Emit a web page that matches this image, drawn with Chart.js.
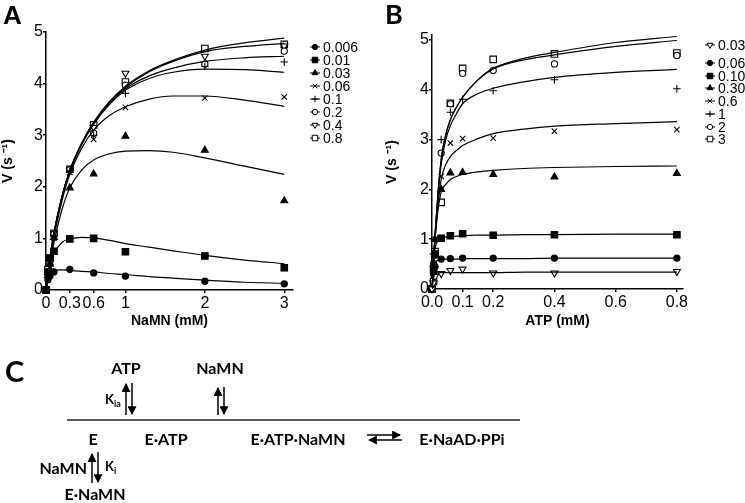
<!DOCTYPE html>
<html>
<head>
<meta charset="utf-8">
<script src="https://cdn.jsdelivr.net/npm/chart.js@4.4.1/dist/chart.umd.min.js"></script>
<style>
  html, body { margin: 0; padding: 0; background: #fff; }
  #wrap { position: relative; width: 745px; height: 503px; overflow: hidden; }
  canvas { position: absolute; top: 0; }
  #chartA { left: 0; }
  #chartB { left: 380px; }
  #scheme { position: absolute; left: 0; top: 0; }
  #scheme text { font-family: Lato, 'Noto Sans', sans-serif; font-weight: bold; fill: #000; }
</style>
</head>
<body>
<div id="wrap">
  <canvas id="chartA" width="380" height="330"></canvas>
  <canvas id="chartB" width="365" height="330"></canvas>
  <svg id="scheme" width="745" height="503">
    <defs>
      <marker id="head" viewBox="0 0 8 8" refX="7" refY="4" markerWidth="6" markerHeight="6" orient="auto">
        <path d="M0,0 L8,4 L0,8 z" fill="#000"/>
      </marker>
    </defs>
    <text x="3" y="24" style="font-family:'Liberation Sans',Arial,sans-serif;font-size:26px">A</text>
    <text x="385" y="24" style="font-size:27px">B</text>
    <text x="5" y="382" style="font-size:29px">C</text>

    <text x="126" y="374" text-anchor="middle" font-size="16">ATP</text>
    <text x="220" y="374" text-anchor="middle" font-size="16">NaMN</text>
    <text x="105" y="404" font-size="13">K<tspan font-size="9" dy="3">ia</tspan></text>
    <line x1="126" y1="415" x2="126" y2="384" stroke="#000" stroke-width="1.5" marker-end="url(#head)"/>
    <line x1="132" y1="383" x2="132" y2="414" stroke="#000" stroke-width="1.5" marker-end="url(#head)"/>
    <line x1="218" y1="415" x2="218" y2="388" stroke="#000" stroke-width="1.5" marker-end="url(#head)"/>
    <line x1="224" y1="387" x2="224" y2="414" stroke="#000" stroke-width="1.5" marker-end="url(#head)"/>

    <line x1="67" y1="420" x2="520" y2="420" stroke="#595959" stroke-width="2"/>

    <text x="93" y="445" text-anchor="middle" font-size="16">E</text>
    <text x="166" y="445" text-anchor="middle" font-size="16">E·ATP</text>
    <text x="298" y="445" text-anchor="middle" font-size="16">E·ATP·NaMN</text>
    <text x="462" y="445" text-anchor="middle" font-size="16">E·NaAD·PPi</text>
    <line x1="367" y1="435" x2="400" y2="435" stroke="#000" stroke-width="1.5" marker-end="url(#head)"/>
    <line x1="402" y1="440" x2="369" y2="440" stroke="#000" stroke-width="1.5" marker-end="url(#head)"/>

    <line x1="92" y1="483" x2="92" y2="454" stroke="#000" stroke-width="1.5" marker-end="url(#head)"/>
    <line x1="98" y1="452" x2="98" y2="482" stroke="#000" stroke-width="1.5" marker-end="url(#head)"/>
    <text x="87" y="474" text-anchor="end" font-size="16">NaMN</text>
    <text x="105" y="471" font-size="13">K<tspan font-size="9" dy="3">i</tspan></text>
    <text x="95" y="500" text-anchor="middle" font-size="16">E·NaMN</text>
  </svg>
</div>
<script>
// ---- Panel A: rate vs NaMN at fixed ATP (mM) ----
const aLabels = ['0.006', '0.01', '0.03', '0.06', '0.1', '0.2', '0.4', '0.8'];
const aTicks = [0, 0.3, 0.6, 1, 2, 3];
const aPointX = [0, 0.025, 0.05, 0.1, 0.3, 0.6, 1, 2, 3];
const aPointY = [
    [0, 0.2, 0.27, 0.35, 0.4, 0.33, 0.27, 0.17, 0.12],
    [0, 0.35, 0.62, 0.75, 0.99, 1.0, 0.74, 0.66, 0.43],
    [null, 0.28, 0.5, 1.02, 1.98, 2.25, 2.98, 2.71, 1.73],
    [null, 0.25, 0.45, 1.0, 2.28, 2.92, 3.54, 3.72, 3.74],
    [null, 0.3, 0.5, 1.05, 2.3, 3.0, 3.81, 4.33, 4.42],
    [null, 0.32, 0.55, 1.08, 2.33, 3.04, 3.97, 4.38, 4.63],
    [null, 0.35, 0.6, 1.1, 2.32, 3.15, 4.2, 4.53, 4.73],
    [0, 0.4, 0.62, 1.1, 2.34, 3.2, 4.03, 4.68, 4.76]
];
// fitted curves
const aCurveX = [0, 0.05, 0.1, 0.2, 0.3, 0.45, 0.6, 0.8, 1, 1.3, 1.6, 2, 2.5, 3];
const aCurveY = [
    [0, 0.3, 0.37, 0.39, 0.38, 0.36, 0.35, 0.32, 0.3, 0.26, 0.23, 0.19, 0.15, 0.13],
    [0, 0.45, 0.7, 0.92, 0.99, 1.02, 1.01, 0.96, 0.9, 0.83, 0.76, 0.67, 0.58, 0.51],
    [0, 0.5, 0.92, 1.55, 1.98, 2.33, 2.52, 2.64, 2.69, 2.7, 2.67, 2.56, 2.4, 2.24],
    [0, 0.55, 1.02, 1.72, 2.24, 2.75, 3.1, 3.38, 3.55, 3.7, 3.76, 3.76, 3.68, 3.56],
    [0, 0.6, 1.1, 1.8, 2.3, 2.82, 3.21, 3.6, 3.87, 4.1, 4.22, 4.28, 4.27, 4.22],
    [0, 0.6, 1.1, 1.8, 2.31, 2.83, 3.23, 3.62, 3.9, 4.15, 4.3, 4.43, 4.5, 4.53],
    [0, 0.6, 1.1, 1.8, 2.32, 2.85, 3.25, 3.65, 3.93, 4.23, 4.43, 4.62, 4.72, 4.78],
    [0, 0.6, 1.1, 1.8, 2.32, 2.85, 3.25, 3.65, 3.95, 4.25, 4.45, 4.65, 4.79, 4.88]
];

// ---- Panel B: rate vs ATP at fixed NaMN (mM) ----
const bLabels = ['0.03', '0.06', '0.10', '0.30', '0.6', '1', '2', '3'];
const bTicks = [0, 0.1, 0.2, 0.4, 0.6, 0.8];
const bPointX = [0, 0.005, 0.01, 0.03, 0.06, 0.1, 0.2, 0.4, 0.8];
const bPointY = [
    [0, 0.12, 0.25, 0.31, 0.37, 0.4, 0.32, 0.32, 0.35],
    [0, 0.3, 0.45, 0.6, 0.61, 0.62, 0.62, 0.62, 0.62],
    [0, 0.4, 0.7, 1.02, 1.07, 1.11, 1.08, 1.09, 1.09],
    [0, 0.5, 1.0, 2.0, 2.33, 2.34, 2.3, 2.25, 2.32],
    [null, 0.6, 1.0, 2.26, 2.93, 3.02, 3.03, 3.17, 3.2],
    [null, 0.7, 1.0, 3.0, 3.55, 3.81, 3.98, 4.2, 4.02],
    [null, 0.5, 0.68, 2.73, 3.72, 4.33, 4.39, 4.52, 4.69],
    [0, 0.15, 0.75, 1.74, 3.73, 4.43, 4.61, 4.72, 4.74]
];
const bCurveX = [0, 0.005, 0.01, 0.02, 0.03, 0.045, 0.06, 0.08, 0.1, 0.15, 0.2, 0.3, 0.4, 0.6, 0.8];
const bCurveY = [
    [0, 0.22, 0.3, 0.32, 0.33, 0.33, 0.33, 0.33, 0.33, 0.33, 0.33, 0.34, 0.34, 0.34, 0.34],
    [0, 0.35, 0.52, 0.58, 0.59, 0.6, 0.6, 0.6, 0.61, 0.61, 0.61, 0.61, 0.62, 0.62, 0.62],
    [0, 0.45, 0.8, 0.97, 1.02, 1.04, 1.05, 1.06, 1.07, 1.08, 1.08, 1.09, 1.09, 1.1, 1.1],
    [0, 0.55, 1.0, 1.6, 1.95, 2.1, 2.2, 2.26, 2.3, 2.35, 2.38, 2.42, 2.44, 2.46, 2.47],
    [0, 0.55, 1.0, 1.7, 2.2, 2.5, 2.66, 2.78, 2.88, 3.02, 3.12, 3.21, 3.27, 3.32, 3.36],
    [0, 0.6, 1.1, 1.9, 2.5, 3.0, 3.28, 3.52, 3.72, 3.92, 4.03, 4.16, 4.25, 4.35, 4.41],
    [0, 0.6, 1.1, 1.95, 2.6, 3.1, 3.4, 3.65, 3.85, 4.2, 4.42, 4.6, 4.7, 4.87, 4.99],
    [0, 0.6, 1.1, 1.95, 2.6, 3.1, 3.4, 3.65, 3.85, 4.2, 4.43, 4.63, 4.75, 4.95, 5.07]
];

// marker per series (same order as the labels)
const aMarkers = [
    { style: 'circle', fill: '#000' },
    { style: 'rect', fill: '#000' },
    { style: 'triangle', fill: '#000' },
    { style: 'crossRot', fill: '#000' },
    { style: 'cross', fill: '#000' },
    { style: 'circle', fill: '#fff' },
    { style: 'triangle', fill: '#fff', rot: 180 },
    { style: 'rect', fill: '#fff' }
];
const bMarkers = [
    { style: 'triangle', fill: '#fff', rot: 180 },
    { style: 'circle', fill: '#000' },
    { style: 'rect', fill: '#000' },
    { style: 'triangle', fill: '#000' },
    { style: 'crossRot', fill: '#000' },
    { style: 'cross', fill: '#000' },
    { style: 'circle', fill: '#fff' },
    { style: 'rect', fill: '#fff' }
];
// Chart.js sizes each style differently for the same radius
const markerRadius = { circle: 3.1, rect: 4.6, triangle: 4.0, cross: 3.8, crossRot: 3.8 };

const FONT = "'Liberation Sans', Arial, sans-serif";
Chart.defaults.font.family = FONT;
Chart.defaults.color = '#000';

function pairs(xs, ys) {
    const out = [];
    xs.forEach((x, i) => { if (ys[i] !== null) out.push({ x: x, y: ys[i] }); });
    return out;
}

function buildDatasets(labels, markers, px, py, cx, cy) {
    const lines = cy.map(ys => ({
        data: pairs(cx, ys),
        showLine: true,
        pointRadius: 0,
        borderColor: '#000',
        borderWidth: 1.2,
        cubicInterpolationMode: 'monotone',
        fill: false
    }));
    const pts = py.map((ys, i) => ({
        legendLabel: labels[i],
        data: pairs(px, ys),
        showLine: false,
        clip: false,
        pointStyle: markers[i].style,
        pointRotation: markers[i].rot || 0,
        pointRadius: markerRadius[markers[i].style],
        pointBackgroundColor: markers[i].fill,
        pointBorderColor: '#000',
        pointBorderWidth: 1.1
    }));
    return lines.concat(pts);
}

// legend drawn like the Prism one: short line with the marker on it
const markerLegend = {
    id: 'markerLegend',
    afterDraw(chart, args, opts) {
        const ctx = chart.ctx;
        ctx.save();
        ctx.font = '14px ' + FONT;
        ctx.textBaseline = 'middle';
        let i = 0;
        chart.data.datasets.forEach(ds => {
            if (!ds.legendLabel) return;
            const x = opts.x, y = opts.rows[i++];
            ctx.strokeStyle = '#000';
            ctx.lineWidth = 1;
            ctx.beginPath(); ctx.moveTo(x - 5, y); ctx.lineTo(x + 5, y); ctx.stroke();
            ctx.fillStyle = ds.pointBackgroundColor;
            Chart.helpers.drawPoint(ctx, {
                pointStyle: ds.pointStyle, rotation: ds.pointRotation,
                radius: ds.pointRadius * 0.85, borderWidth: 1
            }, x, y);
            ctx.fillStyle = '#000';
            ctx.fillText(ds.legendLabel, x + 8, y + 1);
        });
        ctx.restore();
    }
};

function axisCommon() {
    return {
        border: { color: '#000', width: 1.5 },
        grid: { drawOnChartArea: false, drawTicks: true, tickLength: 3, color: '#000', lineWidth: 1.5 }
    };
}

function makeChart(id, cfg) {
    return new Chart(document.getElementById(id), {
        type: 'scatter',
        data: { datasets: buildDatasets(cfg.labels, cfg.markers, cfg.px, cfg.py, cfg.cx, cfg.cy) },
        options: {
            responsive: false,
            animation: false,
            devicePixelRatio: 1,
            layout: { padding: cfg.padding },
            plugins: {
                legend: { display: false },
                tooltip: { enabled: false },
                markerLegend: cfg.legend
            },
            scales: {
                x: Object.assign(axisCommon(), {
                    type: 'linear', min: 0, max: cfg.xMax,
                    afterBuildTicks: s => { s.ticks = cfg.xTicks.map(v => ({ value: v })); },
                    afterFit: s => { s.height = cfg.xHeight; },
                    ticks: { font: { size: 16 }, padding: 1, autoSkip: false, maxRotation: 0, callback: cfg.xFmt },
                    title: { display: true, text: cfg.xTitle, font: { size: 14, weight: 'bold' }, padding: 0 }
                }),
                y: Object.assign(axisCommon(), {
                    min: 0, max: cfg.yMax,
                    afterBuildTicks: s => { s.ticks = [0, 1, 2, 3, 4, 5].map(v => ({ value: v })); },
                    afterFit: s => { s.width = cfg.yWidth; },
                    ticks: { font: { size: 16 }, padding: 0 },
                    title: { display: true, text: 'V (s \u207B\u00B9)', font: { size: 14, weight: 'bold' }, padding: cfg.yTitlePad }
                })
            }
        },
        plugins: [markerLegend]
    });
}

makeChart('chartA', {
    labels: aLabels, markers: aMarkers,
    px: aPointX, py: aPointY, cx: aCurveX, cy: aCurveY,
    xMax: 3.11, yMax: 5, xTicks: aTicks, xFmt: v => String(v),
    xTitle: 'NaMN (mM)', xHeight: 40, yWidth: 46, yTitlePad: 0,
    padding: { left: 0, top: 32, right: 87, bottom: 0 },
    legend: { x: 315, rows: [47, 60, 73, 86, 99, 112, 125, 138] }
});

makeChart('chartB', {
    labels: bLabels, markers: bMarkers,
    px: bPointX, py: bPointY, cx: bCurveX, cy: bCurveY,
    xMax: 0.82, yMax: 5.1, xTicks: bTicks, xFmt: v => v.toFixed(1),
    xTitle: 'ATP (mM)', xHeight: 41, yWidth: 52, yTitlePad: 4,
    padding: { left: 0, top: 35, right: 62, bottom: 0 },
    legend: { x: 330, rows: [45, 63, 76, 88, 101, 114, 127, 139] }
});
</script>
</body>
</html>
